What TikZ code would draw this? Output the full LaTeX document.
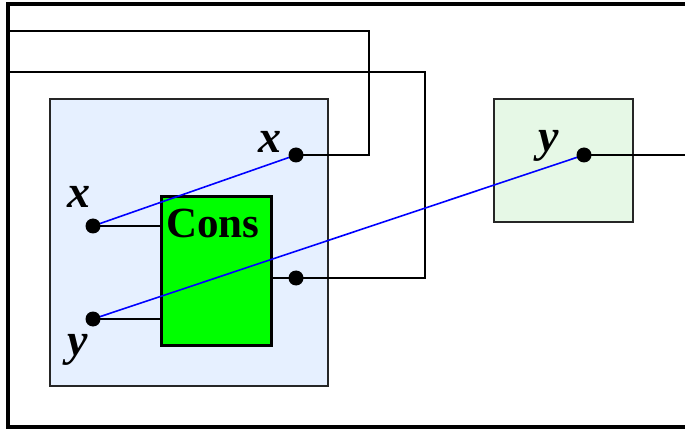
\documentclass[tikz,border=0pt]{standalone}
\usepackage{fontspec}
\setmainfont{Liberation Serif}
\usetikzlibrary{positioning}
\definecolor{scopeblue}{RGB}{230,240,255}
\definecolor{scopegreen}{RGB}{230,248,230}
\definecolor{consgreen}{RGB}{0,255,0}
\tikzstyle{frame} = [draw,line width=3.5pt]
\tikzstyle{scopebox} = [draw=black!85,line width=1.3pt,rectangle,inner sep=0]
\tikzstyle{consbox} = [draw,line width=3pt,rectangle,fill=consgreen,inner sep=0,minimum width=110pt,minimum height=149pt]
\tikzstyle{dot} = [circle,fill=black,inner sep=0,minimum size=15pt]
\tikzstyle{wire} = [-,line width=1.4pt]
\tikzstyle{link} = [-,line width=1.6pt,color=blue]
\tikzstyle{var} = [inner sep=0,anchor=base,font=\fontsize{46}{46}\selectfont\bfseries\itshape]
\def \fr {8}

\begin{document}
\begin{tikzpicture}[x=1pt,y=-1pt]
      \useasboundingbox (0,0) rectangle (685,430);
      \draw[frame] (700,4) -- (\fr,4) -- (\fr,427) -- (700,427);
      % scopes
      \node[scopebox,fill=scopeblue,minimum width=278pt,minimum height=287pt] (lam) at (189,242.5) {};
      \node[scopebox,fill=scopegreen,minimum width=139pt,minimum height=123pt] (env) at (563.5,160.5) {};
      \node[consbox] (cons) at (216.5,271) {};
      \node[anchor=base,inner sep=0,font=\fontsize{43}{43}\selectfont\bfseries] (conslbl) at (213,238) {Cons};
      % variables
      \coordinate (xin) at (93,226);
      \coordinate (yin) at (93,319);
      \coordinate (xout) at (296,155);
      \coordinate (res) at (296,278);
      \coordinate (yv) at (584,155);
      \coordinate (c1) at (369,31);
      \coordinate (f1) at (\fr,31);
      \coordinate (c2) at (425,72);
      \coordinate (f2) at (\fr,72);
      \coordinate (yend) at (700,155);
      \draw[wire] (xin) -- (xin -| cons.west);
      \draw[wire] (yin) -- (yin -| cons.west);
      \draw[wire] (res -| cons.east) -- (res) -| (c2) -- (f2);
      \draw[wire] (xout) -| (c1) -- (f1);
      \draw[wire] (yv) -- (yend);
      \draw[link] (xin) -- (xout);
      \draw[link] (yin) -- (yv);
      \foreach \p in {xin,yin,xout,res,yv}
        \node[dot] (d\p) at (\p) {};
      \node[var] (xinlbl) at (79,208) {x};
      \node[var] (xoutlbl) at (270,153) {x};
      \node[var] (yinlbl) at (78,355) {y};
      \node[var] (yvlbl) at (549,152) {y};
    \end{tikzpicture}
\end{document}
